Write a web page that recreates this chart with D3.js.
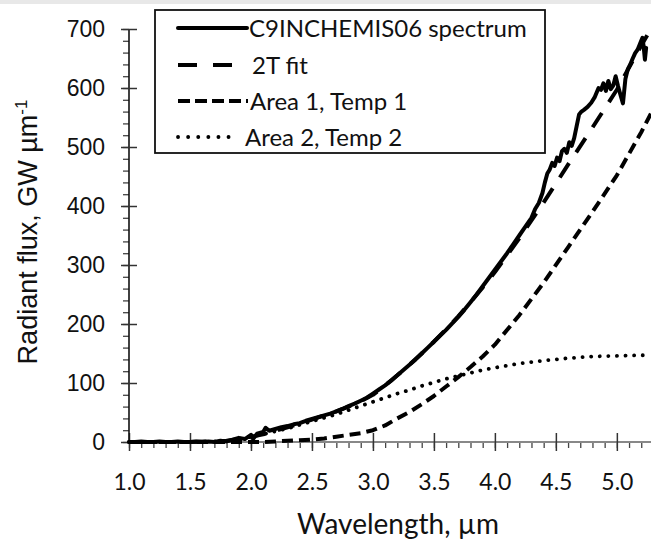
<!DOCTYPE html>
<html>
<head>
<meta charset="utf-8">
<script src="https://cdn.jsdelivr.net/npm/d3@7"></script>
<style>
  html, body { margin: 0; padding: 0; background: #fff; }
  svg { display: block; }
</style>
</head>
<body>
<svg id="chart" width="651" height="543"></svg>
<script>
// Measured spectrum (wavelength in µm, radiant flux in GW µm^-1)
const spectrumWl = [1.00,1.05,1.10,1.15,1.20,1.25,1.30,1.35,1.40,1.45,1.50,1.55,1.60,1.65,1.70,1.75,1.80,1.85,1.90,1.95,
  2.00,2.02,2.05,2.10,2.12,2.15,2.20,2.25,2.30,2.35,2.40,2.45,2.50,2.55,2.60,2.65,2.70,2.75,2.80,2.85,2.90,2.95,
  3.00,3.05,3.10,3.15,3.20,3.25,3.30,3.35,3.40,3.45,3.50,3.55,3.60,3.65,3.70,3.75,3.80,3.85,3.90,3.95,
  4.00,4.05,4.10,4.15,4.20,4.25,4.30,4.33,4.36,4.39,4.41,4.43,4.45,4.47,4.49,4.51,4.53,4.55,4.57,4.59,4.61,4.63,4.65,
  4.67,4.69,4.71,4.73,4.76,4.79,4.82,4.85,4.87,4.89,4.91,4.93,4.95,4.97,4.99,5.01,5.03,5.05,5.07,5.09,5.11,5.13,
  5.15,5.17,5.19,5.21,5.22,5.23,5.24];
const spectrumFlux = [0,0,1,0,0,1,0,0,1,0,0,1,0,1,0,2,1,4,7,5,
  12,6,14,17,24,19,22,25,27,30,32,36,39,42,45,48,52,56,61,65,70,75,
  82,89,96,104,113,122,131,140,150,160,170,180,190,201,212,224,237,250,264,278,
  292,306,320,335,350,365,380,395,405,422,440,455,462,473,468,482,476,493,497,490,508,502,515,
  535,555,560,563,568,575,585,600,597,608,595,612,598,604,620,603,588,574,615,632,640,650,
  659,665,675,685,670,648,668];

// Model curves on a common wavelength grid
const modelWl = [1.0,1.5,1.7,1.8,1.9,2.0,2.1,2.2,2.3,2.4,2.5,2.6,2.7,2.8,2.9,3.0,3.1,3.2,3.3,3.4,3.5,3.6,3.7,3.8,3.9,
  4.0,4.2,4.4,4.6,4.8,5.0,5.2,5.28];
const area1Flux = [0,0,0,0,0,0,0,1,2,3,4,6,9,12,15,20,28,40,51,64,78,94,110,127,145,
  165,215,270,330,390,452,525,557];
const area2Flux = [0,0,1,2,5,9,13,18,23,29,35,41,47,54,61,68,75,82,88,95,101,107,112,117,122,
  126,133,138,142,145,146,147,147];
const fitFlux = [0,0,1,2,5,9,13,19,25,31,38,45,52,60,69,80,96,113,131,150,170,191,213,237,262,
  288,345,406,470,533,597,672,700];

const xTicks = [1.0,1.5,2.0,2.5,3.0,3.5,4.0,4.5,5.0];
const yTicks = [0,100,200,300,400,500,600,700];

const legendLabels = ["C9INCHEMIS06 spectrum", "2T fit", "Area 1, Temp 1", "Area 2, Temp 2"];

const svg = d3.select("#chart");

// thin grey strip along the top edge
svg.append("rect").attr("x", 0).attr("y", 0).attr("width", 651).attr("height", 4).attr("fill", "#e8e8e8");

const x = d3.scaleLinear().domain([1, 5.28]).range([129, 651]);
const y = d3.scaleLinear().domain([0, 700]).range([442, 29]);

const labelFont = "Lato, 'Open Sans', sans-serif";
const numFont = "'Liberation Sans', Arial, sans-serif";

// minor ticks
const xMinor = d3.range(10, 53).map(d => d / 10);
svg.append("g").attr("transform", "translate(0,442)")
  .call(d3.axisBottom(x).tickValues(xMinor).tickSize(6).tickFormat(""))
  .call(g => g.select(".domain").remove())
  .call(g => g.selectAll("line").attr("stroke", "#444").attr("stroke-width", 1.3));
const yMinor = d3.range(0, 701, 20);
svg.append("g").attr("transform", "translate(129,0)")
  .call(d3.axisLeft(y).tickValues(yMinor).tickSize(6).tickFormat(""))
  .call(g => g.select(".domain").remove())
  .call(g => g.selectAll("line").attr("stroke", "#444").attr("stroke-width", 1.3));

// x axis
const xAxis = svg.append("g").attr("transform", "translate(0,442)")
  .call(d3.axisBottom(x).tickValues(xTicks).tickSize(9).tickPadding(22).tickFormat(d3.format(".1f")));
xAxis.select(".domain").attr("stroke", "#888").attr("stroke-width", 1.8).attr("d", "M129,0H651");
xAxis.selectAll(".tick line").attr("y1", -9).attr("stroke", "#333").attr("stroke-width", 1.5);
xAxis.selectAll(".tick text").attr("font-family", labelFont).attr("font-size", 23).attr("fill", "#111")
  .attr("y", 48).attr("dy", null);

// y axis
const yAxis = svg.append("g").attr("transform", "translate(129,0)")
  .call(d3.axisLeft(y).tickValues(yTicks).tickSize(8).tickPadding(16));
yAxis.select(".domain").attr("stroke", "#111").attr("stroke-width", 1.6).attr("d", "M0,442V29");
yAxis.selectAll(".tick line").attr("x1", 8).attr("stroke", "#333").attr("stroke-width", 1.5);
yAxis.selectAll(".tick text").attr("font-family", numFont).attr("font-size", 23).attr("fill", "#111");

// axis titles
svg.append("text")
  .attr("x", 398).attr("y", 534).attr("text-anchor", "middle")
  .attr("font-family", labelFont).attr("font-size", 28).attr("fill", "#111")
  .text("Wavelength, µm");
const yTitle = svg.append("text")
  .attr("transform", "translate(37,232) rotate(-90)").attr("text-anchor", "middle")
  .attr("font-family", numFont).attr("font-size", 27).attr("fill", "#111");
yTitle.append("tspan").text("Radiant flux, GW µm");
yTitle.append("tspan").attr("dy", -10).attr("font-size", 17).text("-1");

// series
const styles = [
  { dash: null, width: 4, cap: "round" },
  { dash: "17,13", width: 4, cap: "butt" },
  { dash: "11,6", width: 4, cap: "butt" },
  { dash: "0.1,8.5", width: 3.8, cap: "round" }
];

const line = d3.line().x(d => x(d[0])).y(d => y(d[1]));
const series = [
  d3.zip(spectrumWl, spectrumFlux),
  d3.zip(modelWl, fitFlux),
  d3.zip(modelWl, area1Flux),
  d3.zip(modelWl, area2Flux)
];

series.forEach((pts, i) => {
  const s = styles[i];
  svg.append("path")
    .datum(pts)
    .attr("d", line)
    .attr("fill", "none")
    .attr("stroke", "#000")
    .attr("stroke-width", s.width)
    .attr("stroke-linecap", s.cap)
    .attr("stroke-linejoin", "round")
    .attr("stroke-dasharray", s.dash);
});

// legend
const lg = svg.append("g");
lg.append("rect").attr("x", 155).attr("y", 10).attr("width", 390).attr("height", 143)
  .attr("fill", "#fff").attr("stroke", "#111").attr("stroke-width", 1.8);
const rowY = [28, 65, 101, 137];
const sampleX = [[178, 247], [178, 232], [178, 248], [178, 238]];
const sampleDash = [null, "19,16", "12,5", "0.1,10"];
const textX = [249, 252, 250, 245];
legendLabels.forEach((lab, i) => {
  const s = styles[i];
  lg.append("line")
    .attr("x1", sampleX[i][0]).attr("x2", sampleX[i][1])
    .attr("y1", rowY[i]).attr("y2", rowY[i])
    .attr("stroke", "#000").attr("stroke-width", s.width)
    .attr("stroke-linecap", s.cap)
    .attr("stroke-dasharray", sampleDash[i]);
  lg.append("text")
    .attr("x", textX[i]).attr("y", rowY[i]).attr("dy", "0.36em")
    .attr("font-family", labelFont).attr("font-size", 24).attr("fill", "#111")
    .text(lab);
});
</script>
</body>
</html>
